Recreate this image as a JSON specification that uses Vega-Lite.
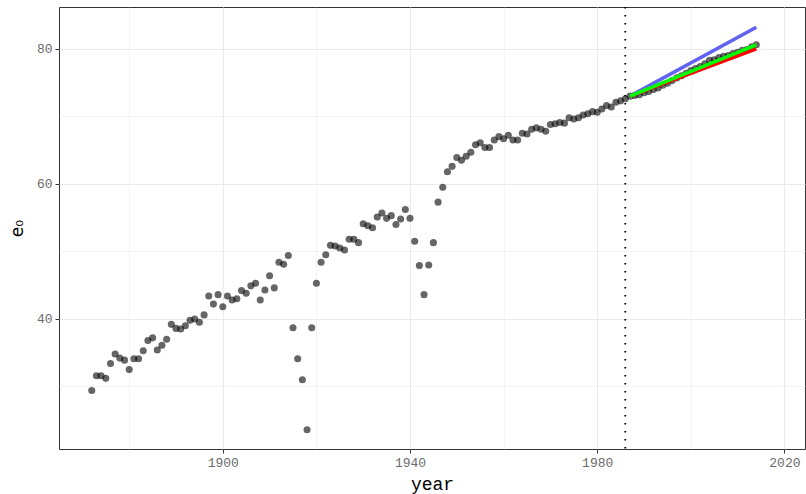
{
  "$schema": "https://vega.github.io/schema/vega-lite/v6.json",
  "width": 746,
  "height": 442,
  "autosize": {"type": "none"},
  "padding": {"left": 59, "top": 7, "right": 1, "bottom": 45},
  "background": "white",
  "config": {
    "view": {"stroke": "#333333", "strokeWidth": 1},
    "axis": {
      "domain": false,
      "gridColor": "#ebebeb",
      "tickColor": "#333333",
      "tickSize": 4,
      "labelFont": "Liberation Mono",
      "labelFontSize": 13,
      "labelColor": "#6b6b6b",
      "titleFontWeight": "normal",
      "titleColor": "#000000"
    }
  },
  "datasets": {
    "obs": [
      {"year": 1872, "e0": 29.4}, {"year": 1873, "e0": 31.6}, {"year": 1874, "e0": 31.6}, {"year": 1875, "e0": 31.2},
      {"year": 1876, "e0": 33.4}, {"year": 1877, "e0": 34.8}, {"year": 1878, "e0": 34.2}, {"year": 1879, "e0": 33.9},
      {"year": 1880, "e0": 32.5}, {"year": 1881, "e0": 34.1}, {"year": 1882, "e0": 34.1}, {"year": 1883, "e0": 35.3},
      {"year": 1884, "e0": 36.8}, {"year": 1885, "e0": 37.2}, {"year": 1886, "e0": 35.4}, {"year": 1887, "e0": 36.1},
      {"year": 1888, "e0": 37.0}, {"year": 1889, "e0": 39.2}, {"year": 1890, "e0": 38.6}, {"year": 1891, "e0": 38.5},
      {"year": 1892, "e0": 39.0}, {"year": 1893, "e0": 39.8}, {"year": 1894, "e0": 40.0}, {"year": 1895, "e0": 39.5},
      {"year": 1896, "e0": 40.6}, {"year": 1897, "e0": 43.4}, {"year": 1898, "e0": 42.2}, {"year": 1899, "e0": 43.6},
      {"year": 1900, "e0": 41.8}, {"year": 1901, "e0": 43.4}, {"year": 1902, "e0": 42.8}, {"year": 1903, "e0": 43.0},
      {"year": 1904, "e0": 44.2}, {"year": 1905, "e0": 43.8}, {"year": 1906, "e0": 44.9}, {"year": 1907, "e0": 45.3},
      {"year": 1908, "e0": 42.8}, {"year": 1909, "e0": 44.3}, {"year": 1910, "e0": 46.4}, {"year": 1911, "e0": 44.6},
      {"year": 1912, "e0": 48.4}, {"year": 1913, "e0": 48.1}, {"year": 1914, "e0": 49.4}, {"year": 1915, "e0": 38.7},
      {"year": 1916, "e0": 34.1}, {"year": 1917, "e0": 31.0}, {"year": 1918, "e0": 23.6}, {"year": 1919, "e0": 38.7},
      {"year": 1920, "e0": 45.3}, {"year": 1921, "e0": 48.4}, {"year": 1922, "e0": 49.5}, {"year": 1923, "e0": 50.9},
      {"year": 1924, "e0": 50.8}, {"year": 1925, "e0": 50.5}, {"year": 1926, "e0": 50.2}, {"year": 1927, "e0": 51.8},
      {"year": 1928, "e0": 51.8}, {"year": 1929, "e0": 51.3}, {"year": 1930, "e0": 54.1}, {"year": 1931, "e0": 53.8},
      {"year": 1932, "e0": 53.5}, {"year": 1933, "e0": 55.1}, {"year": 1934, "e0": 55.7}, {"year": 1935, "e0": 54.9},
      {"year": 1936, "e0": 55.3}, {"year": 1937, "e0": 54.0}, {"year": 1938, "e0": 54.8}, {"year": 1939, "e0": 56.2},
      {"year": 1940, "e0": 54.9}, {"year": 1941, "e0": 51.5}, {"year": 1942, "e0": 47.9}, {"year": 1943, "e0": 43.6},
      {"year": 1944, "e0": 48.0}, {"year": 1945, "e0": 51.3}, {"year": 1946, "e0": 57.3}, {"year": 1947, "e0": 59.5},
      {"year": 1948, "e0": 61.8}, {"year": 1949, "e0": 62.6}, {"year": 1950, "e0": 63.9}, {"year": 1951, "e0": 63.5},
      {"year": 1952, "e0": 64.1}, {"year": 1953, "e0": 64.7}, {"year": 1954, "e0": 65.8}, {"year": 1955, "e0": 66.1},
      {"year": 1956, "e0": 65.4}, {"year": 1957, "e0": 65.4}, {"year": 1958, "e0": 66.5}, {"year": 1959, "e0": 67.0},
      {"year": 1960, "e0": 66.7}, {"year": 1961, "e0": 67.2}, {"year": 1962, "e0": 66.5}, {"year": 1963, "e0": 66.5},
      {"year": 1964, "e0": 67.5}, {"year": 1965, "e0": 67.4}, {"year": 1966, "e0": 68.1}, {"year": 1967, "e0": 68.3},
      {"year": 1968, "e0": 68.1}, {"year": 1969, "e0": 67.8}, {"year": 1970, "e0": 68.8}, {"year": 1971, "e0": 68.9},
      {"year": 1972, "e0": 69.1}, {"year": 1973, "e0": 69.0}, {"year": 1974, "e0": 69.8}, {"year": 1975, "e0": 69.6},
      {"year": 1976, "e0": 69.8}, {"year": 1977, "e0": 70.2}, {"year": 1978, "e0": 70.4}, {"year": 1979, "e0": 70.7},
      {"year": 1980, "e0": 70.6}, {"year": 1981, "e0": 71.1}, {"year": 1982, "e0": 71.6}, {"year": 1983, "e0": 71.4},
      {"year": 1984, "e0": 72.1}, {"year": 1985, "e0": 72.3}, {"year": 1986, "e0": 72.6}, {"year": 1987, "e0": 73.0},
      {"year": 1988, "e0": 73.1}, {"year": 1989, "e0": 73.2}, {"year": 1990, "e0": 73.5}, {"year": 1991, "e0": 73.7},
      {"year": 1992, "e0": 74.0}, {"year": 1993, "e0": 74.2}, {"year": 1994, "e0": 74.6}, {"year": 1995, "e0": 74.9},
      {"year": 1996, "e0": 75.3}, {"year": 1997, "e0": 75.7}, {"year": 1998, "e0": 76.0}, {"year": 1999, "e0": 76.4},
      {"year": 2000, "e0": 76.8}, {"year": 2001, "e0": 77.1}, {"year": 2002, "e0": 77.4}, {"year": 2003, "e0": 77.8},
      {"year": 2004, "e0": 78.3}, {"year": 2005, "e0": 78.4}, {"year": 2006, "e0": 78.7}, {"year": 2007, "e0": 78.9},
      {"year": 2008, "e0": 79.0}, {"year": 2009, "e0": 79.3}, {"year": 2010, "e0": 79.5}, {"year": 2011, "e0": 79.8},
      {"year": 2012, "e0": 79.9}, {"year": 2013, "e0": 80.3}, {"year": 2014, "e0": 80.6}
    ],
    "fc": [
      {"model": "A", "year": 1987, "e0": 73.0}, {"model": "A", "year": 2014, "e0": 83.2},
      {"model": "B", "year": 1987, "e0": 73.0}, {"model": "B", "year": 2014, "e0": 80.0},
      {"model": "C", "year": 1987, "e0": 73.0}, {"model": "C", "year": 2014, "e0": 80.6}
    ],
    "cut": [{"year": 1986}]
  },
  "layer": [
    {
      "data": {"name": "obs"},
      "mark": {"type": "point", "filled": true, "size": 50, "color": "#000000", "opacity": 0.6, "strokeWidth": 0},
      "encoding": {
        "x": {
          "field": "year", "type": "quantitative",
          "scale": {"domain": [1865.0, 2024.4], "nice": false, "zero": false},
          "axis": {
            "values": [1880, 1900, 1920, 1940, 1960, 1980, 2000, 2020],
            "format": "d",
            "labelExpr": "datum.value % 40 == 20 ? datum.label : ''",
            "tickOpacity": {"condition": {"test": "datum.value % 40 == 20", "value": 1}, "value": 0},
            "gridWidth": {"condition": {"test": "datum.value % 40 == 20", "value": 1.1}, "value": 0.55},
            "labelPadding": 3,
            "title": "year",
            "titleFont": "Liberation Mono",
            "titleFontSize": 18,
            "titlePadding": 6
          }
        },
        "y": {
          "field": "e0", "type": "quantitative",
          "scale": {"domain": [20.74, 86.2], "nice": false, "zero": false},
          "axis": {
            "values": [30, 40, 50, 60, 70, 80],
            "labelExpr": "datum.value % 20 == 0 ? datum.label : ''",
            "tickOpacity": {"condition": {"test": "datum.value % 20 == 0", "value": 1}, "value": 0},
            "gridWidth": {"condition": {"test": "datum.value % 20 == 0", "value": 1.1}, "value": 0.55},
            "labelPadding": 3,
            "title": "e₀",
            "titleAngle": 270,
            "titleFont": "DejaVu Sans",
            "titleFontSize": 17,
            "titlePadding": 10
          }
        }
      }
    },
    {
      "data": {"name": "cut"},
      "mark": {"type": "rule", "color": "#000000", "strokeWidth": 1.8, "strokeDash": [1.6, 6.4]},
      "encoding": {"x": {"field": "year", "type": "quantitative"}}
    },
    {
      "data": {"name": "fc"},
      "mark": {"type": "line", "strokeWidth": 3.6},
      "encoding": {
        "x": {"field": "year", "type": "quantitative"},
        "y": {"field": "e0", "type": "quantitative"},
        "color": {
          "field": "model", "type": "nominal",
          "scale": {"domain": ["A", "B", "C"], "range": ["#6363f2", "#ff0000", "#00ff00"]},
          "legend": null
        },
        "order": {"field": "model"}
      }
    }
  ]
}
